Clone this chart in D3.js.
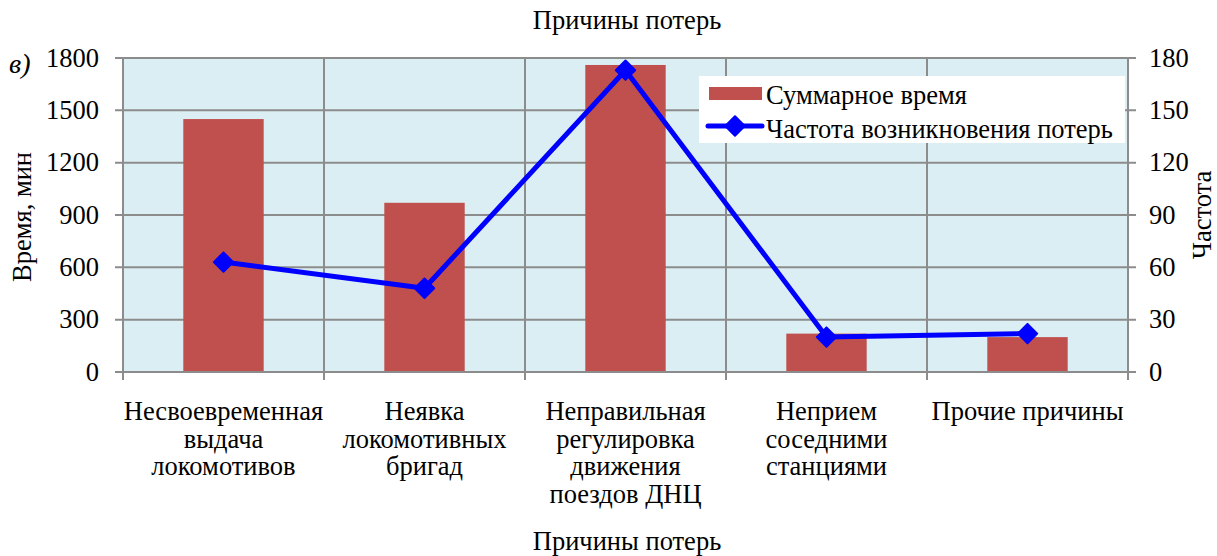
<!DOCTYPE html>
<html>
<head>
<meta charset="utf-8">
<style>
  body { margin: 0; background: #fff; }
</style>
</head>
<body>
<div id="chart"></div>
<script src="https://d3js.org/d3.v7.min.js"></script>
<script>
var categories = [
  ["Несвоевременная", "выдача", "локомотивов"],
  ["Неявка", "локомотивных", "бригад"],
  ["Неправильная", "регулировка", "движения", "поездов ДНЦ"],
  ["Неприем", "соседними", "станциями"],
  ["Прочие причины"]
];
var totalTime = [1450, 970, 1760, 220, 200];
var frequency = [63, 48, 173, 20, 22];
var leftTicks = [0, 300, 600, 900, 1200, 1500, 1800];
var rightTicks = [0, 30, 60, 90, 120, 150, 180];

var W = 1217, H = 556;
var m = {left: 123, right: 1128, top: 58, bottom: 372};
var FONT = "'Liberation Serif', 'Times New Roman', serif";
var FS = "26.5px";

var svg = d3.select("#chart").append("svg")
  .attr("width", W).attr("height", H)
  .style("font-family", FONT);

var x = d3.scaleBand()
  .domain(d3.range(categories.length))
  .range([m.left, m.right])
  .paddingInner(0).paddingOuter(0);
var yL = d3.scaleLinear().domain([0, 1800]).range([m.bottom, m.top]);
var yR = d3.scaleLinear().domain([0, 180]).range([m.bottom, m.top]);

var gridColor = "#8c8c8c";

// plot background
svg.append("rect")
  .attr("x", m.left).attr("y", m.top)
  .attr("width", m.right - m.left).attr("height", m.bottom - m.top)
  .attr("fill", "#dbeef3");

// horizontal gridlines
svg.append("g").selectAll("line").data(leftTicks).join("line")
  .attr("x1", m.left - 8).attr("x2", m.right + 8)
  .attr("y1", d => yL(d)).attr("y2", d => yL(d))
  .attr("stroke", gridColor).attr("stroke-width", 2);

// vertical gridlines
var xEdges = d3.range(categories.length + 1).map(i => m.left + i * x.bandwidth());
svg.append("g").selectAll("line").data(xEdges).join("line")
  .attr("x1", d => d).attr("x2", d => d)
  .attr("y1", m.top).attr("y2", m.bottom + 8)
  .attr("stroke", gridColor).attr("stroke-width", 2);

// bars
var bw = x.bandwidth() * 0.4;
svg.append("g").selectAll("rect").data(totalTime).join("rect")
  .attr("x", (d, i) => x(i) + x.bandwidth() / 2 - bw / 2)
  .attr("y", d => yL(d))
  .attr("width", bw)
  .attr("height", d => yL(0) - yL(d))
  .attr("fill", "#c0504d");

// bottom axis line on top of bars
svg.append("line")
  .attr("x1", m.left - 8).attr("x2", m.right + 8)
  .attr("y1", m.bottom).attr("y2", m.bottom)
  .attr("stroke", gridColor).attr("stroke-width", 2);

// line
var line = d3.line()
  .x((d, i) => x(i) + x.bandwidth() / 2)
  .y(d => yR(d));
svg.append("path")
  .datum(frequency)
  .attr("d", line)
  .attr("fill", "none")
  .attr("stroke", "#0000ff")
  .attr("stroke-width", 5)
  .attr("stroke-linejoin", "round");

var diamond = d3.symbol().type(d3.symbolDiamond2).size(240);
svg.append("g").selectAll("path").data(frequency).join("path")
  .attr("d", diamond)
  .attr("transform", (d, i) => `translate(${x(i) + x.bandwidth() / 2},${yR(d)})`)
  .attr("fill", "#0000ff")
  .attr("stroke", "#0000ff")
  .attr("stroke-width", 2)
  .attr("stroke-linejoin", "round");

// left tick labels
svg.append("g").selectAll("text").data(leftTicks).join("text")
  .attr("x", m.left - 24).attr("y", d => yL(d))
  .attr("dy", "0.33em")
  .attr("text-anchor", "end")
  .style("font-size", FS)
  .text(d => d);

// right tick labels
svg.append("g").selectAll("text").data(rightTicks).join("text")
  .attr("x", m.right + 21).attr("y", d => yR(d))
  .attr("dy", "0.33em")
  .attr("text-anchor", "start")
  .style("font-size", FS)
  .text(d => d);

// category labels
var cat = svg.append("g").selectAll("text").data(categories).join("text")
  .attr("x", (d, i) => x(i) + x.bandwidth() / 2)
  .attr("y", 420)
  .attr("text-anchor", "middle")
  .style("font-size", FS);
cat.selectAll("tspan").data(d => d).join("tspan")
  .attr("x", function () { return d3.select(this.parentNode).attr("x"); })
  .attr("dy", (d, i) => i === 0 ? 0 : 27.6)
  .text(d => d);

// titles
svg.append("text")
  .attr("x", 627).attr("y", 29)
  .attr("text-anchor", "middle")
  .style("font-size", FS)
  .text("Причины потерь");
svg.append("text")
  .attr("x", 627).attr("y", 550)
  .attr("text-anchor", "middle")
  .style("font-size", FS)
  .text("Причины потерь");
svg.append("text")
  .attr("transform", "translate(31,217) rotate(-90)")
  .attr("text-anchor", "middle")
  .style("font-size", FS)
  .text("Время, мин");
svg.append("text")
  .attr("transform", "translate(1211,215) rotate(-90)")
  .attr("text-anchor", "middle")
  .style("font-size", FS)
  .text("Частота");
svg.append("text")
  .attr("x", 9).attr("y", 73)
  .style("font-size", "28px")
  .style("font-style", "italic")
  .text("в)");

// legend
var lg = svg.append("g").attr("transform", "translate(699,76)");
lg.append("rect")
  .attr("width", 426).attr("height", 67)
  .attr("fill", "#fff");
lg.append("rect")
  .attr("x", 10).attr("y", 11).attr("width", 53).attr("height", 13)
  .attr("fill", "#c0504d");
lg.append("text")
  .attr("x", 67).attr("y", 19).attr("dy", "0.33em")
  .style("font-size", FS)
  .text("Суммарное время");
lg.append("line")
  .attr("x1", 9).attr("x2", 63).attr("y1", 50).attr("y2", 50)
  .attr("stroke", "#0000ff").attr("stroke-width", 5).attr("stroke-linecap", "round");
lg.append("path")
  .attr("d", diamond)
  .attr("transform", "translate(36,50)")
  .attr("fill", "#0000ff").attr("stroke", "#0000ff").attr("stroke-width", 2)
  .attr("stroke-linejoin", "round");
lg.append("text")
  .attr("x", 67).attr("y", 53).attr("dy", "0.33em")
  .style("font-size", FS)
  .text("Частота возникновения потерь");
</script>
</body>
</html>
